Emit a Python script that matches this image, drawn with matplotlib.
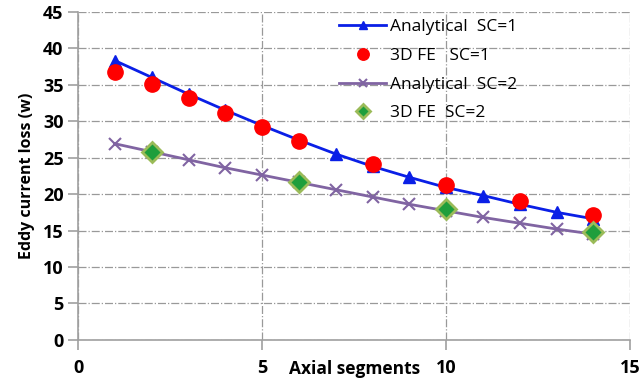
import matplotlib
matplotlib.use("Agg")
import matplotlib.pyplot as plt

plt.rcParams['font.family'] = ['Open Sans', 'DejaVu Sans']

# data
x_an = [1, 2, 3, 4, 5, 6, 7, 8, 9, 10, 11, 12, 13, 14]
an_sc1 = [38.3, 36.0, 33.7, 31.5, 29.4, 27.4, 25.5, 23.8, 22.3, 20.9, 19.8, 18.6, 17.5, 16.6]
an_sc2 = [26.9, 25.8, 24.7, 23.6, 22.6, 21.6, 20.6, 19.6, 18.6, 17.7, 16.8, 16.0, 15.2, 14.5]

x_fe1 = [1, 2, 3, 4, 5, 6, 8, 10, 12, 14]
fe_sc1 = [36.8, 35.1, 33.2, 31.1, 29.2, 27.3, 24.1, 21.3, 19.0, 17.1]

x_fe2 = [2, 6, 10, 14]
fe_sc2 = [25.8, 21.6, 17.9, 14.8]

fig = plt.figure(figsize=(6.41, 3.81), dpi=100)
ax = fig.add_axes([0.122, 0.108, 0.861, 0.861])

ax.plot(x_an, an_sc1, color='#0a1fe6', lw=2, marker='^', ms=8,
        label='Analytical  SC=1', zorder=3)
ax.plot(x_fe1, fe_sc1, ls='none', marker='o', ms=11, color='#ff0000',
        label='3D FE   SC=1', zorder=4)
ax.plot(x_an, an_sc2, color='#8064a2', lw=2, marker='x', ms=8, mew=1.5,
        label='Analytical  SC=2', zorder=3)
ax.plot(x_fe2, fe_sc2, ls='none', marker='D', ms=10, mfc='#1e9e3c',
        mec='#9bbb59', mew=2, label='3D FE  SC=2', zorder=4)

ax.set_xlim(0, 15)
ax.set_ylim(0, 45)
ax.set_xticks([0, 5, 10, 15])
ax.set_yticks(range(0, 46, 5))

ax.grid(True, color='#999999', ls='-.', lw=0.9)
for s in ['top', 'right']:
    ax.spines[s].set_visible(False)
for s in ['left', 'bottom']:
    ax.spines[s].set_color('#a0a0a0')
    ax.spines[s].set_linewidth(1.2)

ax.tick_params(axis='both', colors='#a0a0a0', length=7, width=1.2, labelcolor='black')
ax.tick_params(axis='x', pad=7)
for lb in ax.get_xticklabels() + ax.get_yticklabels():
    lb.set_fontsize(13)
    lb.set_fontweight('bold')

ax.set_xlabel('Axial segments', fontsize=12.5, fontweight='bold')
ax.xaxis.set_label_coords(0.5, -0.06)
ax.set_ylabel('Eddy current loss (w)', fontsize=11.5, fontweight='bold', labelpad=6)

leg = ax.legend(loc='upper left', bbox_to_anchor=(0.445, 1.025), frameon=False,
                fontsize=12.5, handlelength=2.7, handletextpad=0.2, labelspacing=0.72,
                markerscale=0.75)

fig.savefig('out.png', dpi=100)
